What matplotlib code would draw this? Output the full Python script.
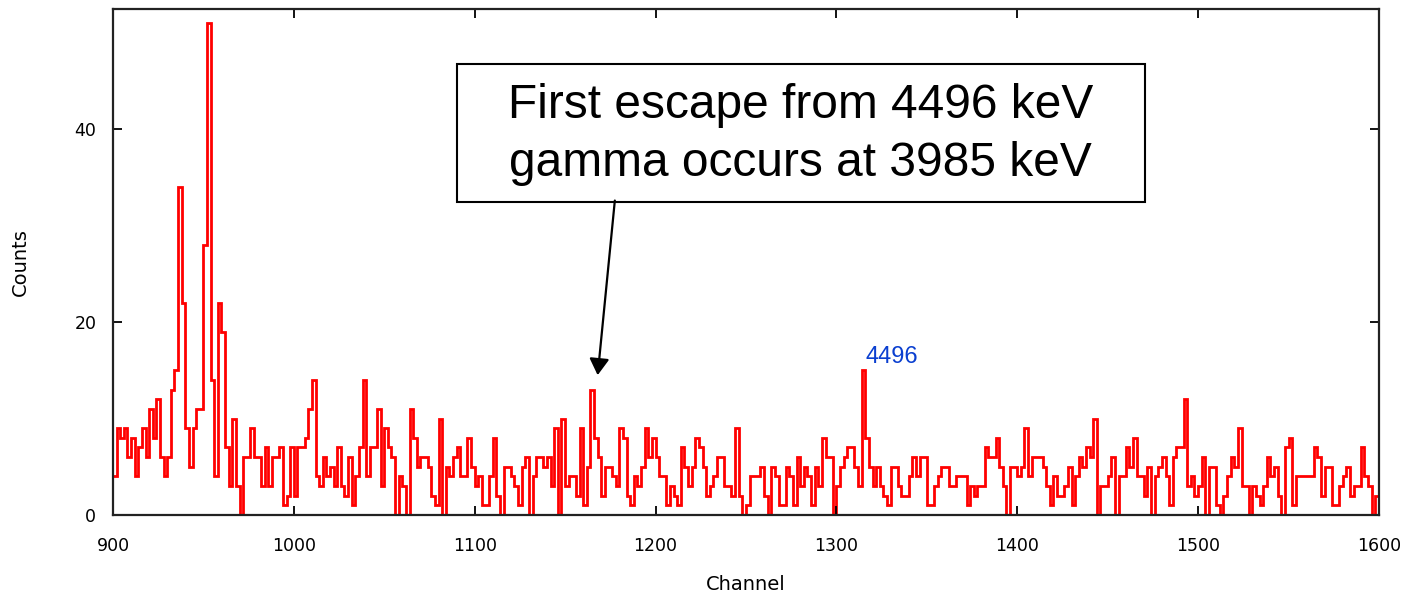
import numpy as np
import matplotlib
matplotlib.use("Agg")
import matplotlib.pyplot as plt
from matplotlib.patches import Rectangle

# spectrum, 2-channel bins starting at channel 900
bin_start = 900
bin_width = 2
counts = [
    # 900 - 1018
    4, 9, 8, 9, 6, 8, 4, 7, 9, 6, 11, 8, 12, 6, 4, 6, 13, 15, 34, 22,
    9, 5, 9, 11, 11, 28, 51, 14, 4, 22, 19, 7, 3, 10, 3, 0, 6, 6, 9, 6,
    6, 3, 7, 3, 6, 6, 7, 1, 2, 7, 2, 7, 7, 8, 11, 14, 4, 3, 6, 4,
    # 1020 - 1156
    5, 3, 7, 3, 2, 6, 1, 4, 7, 14, 4, 7, 7, 11, 3, 9, 7, 6, 0, 4,
    3, 0, 11, 8, 5, 6, 6, 5, 2, 1, 10, 0, 5, 4, 6, 7, 4, 4, 8, 5,
    3, 4, 1, 1, 4, 8, 2, 0, 5, 5, 4, 3, 1, 5, 6, 0, 4, 6, 6, 5,
    6, 3, 9, 0, 10, 3, 4, 4, 2,
    # 1158 - 1288
    9, 1, 5, 13, 8, 6, 2, 5, 5, 4, 3, 9, 8, 2, 1, 4, 3, 5, 9, 6,
    8, 6, 4, 4, 1, 3, 2, 1, 7, 5, 3, 5, 8, 7, 5, 2, 3, 4, 6, 6,
    3, 3, 2, 9, 2, 0, 1, 4, 4, 4, 5, 2, 0, 5, 4, 1, 1, 5, 4, 1,
    6, 3, 5, 4, 1, 5,
    # 1290 - 1420
    3, 8, 6, 6, 0, 3, 5, 6, 7, 7, 5, 3, 15, 8, 5, 3, 5, 3, 2, 1,
    5, 5, 3, 2, 2, 4, 6, 4, 6, 6, 1, 1, 3, 4, 5, 5, 3, 3, 4, 4,
    4, 1, 3, 2, 3, 3, 7, 6, 6, 8, 5, 3, 0, 5, 5, 4, 5, 9, 4, 6,
    6, 6, 5, 3, 1, 4,
    # 1422 - 1554
    2, 2, 3, 5, 1, 4, 6, 5, 7, 6, 10, 0, 3, 3, 4, 6, 0, 4, 4, 7,
    5, 8, 4, 4, 2, 5, 0, 4, 5, 6, 4, 1, 6, 7, 7, 12, 3, 4, 2, 3,
    6, 0, 5, 5, 1, 0, 2, 4, 6, 5, 9, 3, 3, 0, 3, 2, 1, 3, 6, 4,
    5, 2, 0, 7, 8, 1, 4,
    # 1556 - 1598
    4, 4, 4, 4, 7, 6, 2, 5, 5, 1, 1, 3, 4, 5, 2, 3, 3, 7, 4, 3,
    0, 2,
]

x_ticks = [900, 1000, 1100, 1200, 1300, 1400, 1500, 1600]
y_ticks = [0, 20, 40]

note_text = "First escape from 4496 keV\ngamma occurs at 3985 keV"
note_box = (1090, 32.5, 1470.5, 46.8)   # x0, y0, x1, y1 in data units
arrow_tip = (1168, 14.5)
arrow_tail = (1177.5, 32.6)
peak_label = "4496"
peak_label_pos = (1316, 15.8)

edges = bin_start + bin_width * np.arange(len(counts) + 1)

fig = plt.figure(figsize=(14.12, 5.93), dpi=100)
ax = fig.add_axes([0.080, 0.1315, 0.8966, 0.854])

ax.stairs(counts, edges, color="#ff0000", lw=2.0, baseline=None)

ax.set_xlim(900, 1600)
ax.set_ylim(0, 52.5)
ax.set_xticks(x_ticks)
ax.set_yticks(y_ticks)
ax.tick_params(direction="in", length=6.5, width=1.3, top=True, right=True,
               labelsize=12.5, colors="black", pad=12)
ax.tick_params(axis="x", pad=16)
for s in ax.spines.values():
    s.set_linewidth(1.6)
    s.set_color("#222222")

ax.set_xlabel("Channel", fontsize=14, labelpad=14)
ax.set_ylabel("Counts", fontsize=14, labelpad=32)

x0, y0, x1, y1 = note_box
ax.add_patch(Rectangle((x0, y0), x1 - x0, y1 - y0, facecolor="white",
                       edgecolor="black", lw=1.5, zorder=5))
ax.text((x0 + x1) / 2, (y0 + y1) / 2 - 0.2, note_text, ha="center", va="center",
        fontsize=34.5, family="Liberation Sans", linespacing=1.35, zorder=6)

ax.annotate("", xy=arrow_tip, xytext=arrow_tail,
            arrowprops=dict(arrowstyle="-|>,head_length=0.5,head_width=0.3",
                            color="black", lw=1.6, mutation_scale=20,
                            shrinkA=0, shrinkB=0), zorder=6)

ax.text(*peak_label_pos, peak_label, color="#0a3fd0", fontsize=17,
        family="Liberation Sans", ha="left", va="baseline")

fig.savefig("out.png", dpi=100)
